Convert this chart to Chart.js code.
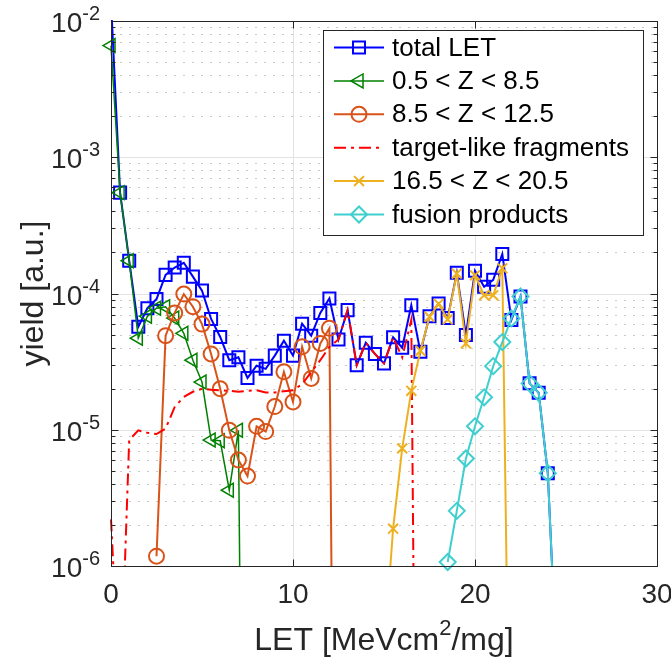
<!DOCTYPE html>
<html lang="en">
<head>
<meta charset="UTF-8" />
<title>LET yield</title>
<script src="https://cdn.jsdelivr.net/npm/chart.js"></script>
<style>
  html, body { margin: 0; padding: 0; background: #fff; }
  #chart { display: block; }
</style>
</head>
<body>
<canvas id="chart" width="671" height="666"></canvas>
<script>
  // LET bins [MeVcm2/mg] and yields [a.u.]
  const totalX = [0, 0.5, 1, 1.5, 2, 2.5, 3, 3.5, 4, 4.5, 5, 5.5, 6, 6.5, 7, 7.5, 8, 8.5, 9, 9.5,
                  10, 10.5, 11, 11.5, 12, 12.5, 13, 13.5, 14, 14.5, 15, 15.5, 16, 16.5, 17, 17.5, 18, 18.5, 19, 19.5,
                  20, 20.5, 21, 21.5, 22, 22.5, 23, 23.5, 24, 24.5];
  const totalY = [1.4e-2, 5.5e-4, 1.74e-4, 5.7e-5, 7.8e-5, 9.1e-5, 1.37e-4, 1.55e-4, 1.68e-4, 1.33e-4,
                  1.05e-4, 6.5e-5, 4.8e-5, 3.24e-5, 3.4e-5, 2.4e-5, 2.95e-5, 2.8e-5, 3.5e-5, 4.5e-5,
                  3.5e-5, 6.0e-5, 4.9e-5, 7.2e-5, 9.2e-5, 4.6e-5, 7.55e-5, 2.98e-5, 4.35e-5, 3.6e-5,
                  3.07e-5, 4.77e-5, 4.0e-5, 8.2e-5, 3.73e-5, 6.8e-5, 8.45e-5, 6.6e-5, 1.42e-4, 4.95e-5,
                  1.47e-4, 1.12e-4, 1.26e-4, 1.95e-4, 6.4e-5, 9.5e-5, 2.19e-5, 1.87e-5, 4.8e-6, 1.7e-7];

  const lightX = [0, 0.5, 1, 1.5, 2, 2.5, 3, 3.5, 4, 4.5, 5, 5.5, 6, 6.5, 7, 7.5];
  const lightY = [6.6e-3, 5.5e-4, 1.74e-4, 4.7e-5, 6.8e-5, 7.8e-5, 8.0e-5, 6.6e-5, 5.1e-5, 3.24e-5,
                  2.24e-5, 8.4e-6, 8.3e-6, 3.6e-6, 9.9e-6, 1e-12];

  const midX = [2.5, 3, 3.5, 4, 4.5, 5, 5.5, 6, 6.5, 7, 7.5, 8, 8.5, 9, 9.5, 10, 10.5, 11, 11.5, 12, 12.5];
  const midY = [1.18e-6, 4.9e-5, 7.2e-5, 9.9e-5, 8.0e-5, 5.96e-5, 3.6e-5, 2.0e-5, 9.9e-6, 6.0e-6,
                4.57e-6, 1.06e-5, 9.7e-6, 1.48e-5, 2.66e-5, 1.6e-5, 4.06e-5, 2.38e-5, 4.3e-5, 5.55e-5, 1e-12];

  const targetX = [0, 0.5, 1, 1.5, 2, 2.5, 3, 3.5, 4, 4.5, 5, 5.5, 6, 6.5, 7, 7.5, 8, 8.5, 9, 9.5,
                   10, 10.5, 11, 11.5, 12, 12.5, 13, 13.5, 14, 14.5, 15, 15.5, 16, 16.5, 17];
  const targetY = [2.2e-6, 1e-7, 8.4e-6, 9.9e-6, 9.5e-6, 9.3e-6, 1.02e-5, 1.47e-5, 1.74e-5, 1.9e-5,
                   2.0e-5, 1.97e-5, 1.95e-5, 1.93e-5, 1.9e-5, 1.93e-5, 1.95e-5, 1.88e-5, 1.88e-5, 1.92e-5,
                   1.95e-5, 2.16e-5, 2.65e-5, 3.24e-5, 4.06e-5, 4.6e-5, 7.55e-5, 2.98e-5, 4.35e-5, 3.6e-5,
                   3.07e-5, 4.77e-5, 3.4e-5, 6.4e-5, 1e-12];

  const heavyX = [15, 15.5, 16, 16.5, 17, 17.5, 18, 18.5, 19, 19.5, 20, 20.5, 21, 21.5, 22];
  const heavyY = [2.3e-7, 1.88e-6, 7.3e-6, 1.93e-5, 3.8e-5, 6.75e-5, 8.4e-5, 6.45e-5, 1.4e-4, 4.3e-5,
                  1.36e-4, 9.7e-5, 9.7e-5, 1.53e-4, 3e-9];

  const fusionX = [18.5, 19, 19.5, 20, 20.5, 21, 21.5, 22, 22.5, 23, 23.5, 24, 24.5];
  const fusionY = [1.07e-6, 2.54e-6, 6.15e-6, 1.06e-5, 1.73e-5, 2.93e-5, 4.4e-5, 6.56e-5, 9.5e-5,
                   2.19e-5, 1.87e-5, 4.8e-6, 1.7e-7];

  const seriesNames = ['total LET', '0.5 < Z < 8.5', '8.5 < Z < 12.5', 'target-like fragments',
                       '16.5 < Z < 20.5', 'fusion products'];
  const xTicks = [0, 10, 20, 30];
  const yExponents = [-6, -5, -4, -3, -2];

  // look of each series (same order as the names)
  const looks = [
    { color: '#0000ff', width: 2,   dash: [],            marker: 'rect',     rot: 0,   r: 8.5 },
    { color: '#008000', width: 1.5, dash: [],            marker: 'triangle', rot: -90, r: 8 },
    { color: '#d95319', width: 2,   dash: [],            marker: 'circle',   rot: 0,   r: 7.5 },
    { color: '#ff0000', width: 2,   dash: [12, 5, 3, 5], marker: null,       rot: 0,   r: 0 },
    { color: '#edb120', width: 2,   dash: [],            marker: 'crossRot', rot: 0,   r: 7 },
    { color: '#3fcfcf', width: 2,   dash: [],            marker: 'rectRot',  rot: 0,   r: 8 }
  ];
  const xs = [totalX, lightX, midX, targetX, heavyX, fusionX];
  const ys = [totalY, lightY, midY, targetY, heavyY, fusionY];

  const FONT = '"Liberation Sans", Arial, sans-serif';
  const INK = '#262626';

  // Chart.js paints lower "order" on top, so later series get a lower order
  const datasets = [];
  xs.forEach((xv, i) => {
    const pts = xv.map((x, j) => ({ x: x, y: ys[i][j] }));
    const lk = looks[i];
    datasets.push({
      data: pts, borderColor: lk.color, borderWidth: lk.width, borderDash: lk.dash,
      pointRadius: 0, fill: false, tension: 0, clip: 1, order: -datasets.length
    });
    if (lk.marker) {
      datasets.push({
        data: pts, showLine: false, clip: false, order: -datasets.length,
        pointStyle: lk.marker, rotation: lk.rot,
        pointRadius: c => (c.raw && c.raw.y >= 1e-6 ? lk.r : 0),
        pointBorderColor: lk.color, pointBackgroundColor: 'rgba(0,0,0,0)',
        pointBorderWidth: lk.width
      });
    }
  });

  function seg(ctx, x1, y1, x2, y2) {
    ctx.beginPath(); ctx.moveTo(x1, y1); ctx.lineTo(x2, y2); ctx.stroke();
  }

  const axesPlugin = {
    id: 'matlabAxes',
    beforeDatasetsDraw(chart) {
      const { ctx, chartArea: a, scales: { x, y } } = chart;
      ctx.save();
      ctx.lineWidth = 1;
      // minor grid (dotted)
      ctx.strokeStyle = '#c8c8c8';
      ctx.setLineDash([2, 7]);
      for (let e = -6; e < -2; e++) {
        for (let m = 2; m < 10; m++) {
          const py = Math.round(y.getPixelForValue(m * Math.pow(10, e))) + 0.5;
          seg(ctx, a.left, py, a.right, py);
        }
      }
      ctx.setLineDash([]);
      // major grid
      ctx.strokeStyle = '#e3e3e3';
      yExponents.forEach(e => {
        const py = Math.round(y.getPixelForValue(Math.pow(10, e))) + 0.5;
        seg(ctx, a.left, py, a.right, py);
      });
      xTicks.forEach(t => {
        const px = Math.round(x.getPixelForValue(t)) + 0.5;
        seg(ctx, px, a.top, px, a.bottom);
      });
      ctx.restore();
    },
    afterDraw(chart) {
      const { ctx, chartArea: a, scales: { x, y } } = chart;
      ctx.save();
      ctx.strokeStyle = INK;
      ctx.lineWidth = 1;
      const L = Math.round(a.left) + 0.5, R = Math.round(a.right) + 0.5;
      const T = Math.round(a.top) + 0.5, B = Math.round(a.bottom) + 0.5;
      ctx.strokeRect(L, T, R - L, B - T);

      // ticks (inward)
      for (let e = -6; e <= -2; e++) {
        const py = Math.round(y.getPixelForValue(Math.pow(10, e))) + 0.5;
        seg(ctx, L, py, L + 7, py); seg(ctx, R, py, R - 7, py);
        if (e < -2) {
          for (let m = 2; m < 10; m++) {
            const q = Math.round(y.getPixelForValue(m * Math.pow(10, e))) + 0.5;
            seg(ctx, L, q, L + 4, q); seg(ctx, R, q, R - 4, q);
          }
        }
      }
      xTicks.forEach(t => {
        const px = Math.round(x.getPixelForValue(t)) + 0.5;
        seg(ctx, px, B, px, B - 7); seg(ctx, px, T, px, T + 7);
      });

      ctx.fillStyle = INK;
      // y tick labels 10^e
      yExponents.forEach(e => {
        const py = y.getPixelForValue(Math.pow(10, e));
        ctx.textBaseline = 'alphabetic';
        ctx.font = '20px ' + FONT;
        ctx.textAlign = 'right';
        const ex = String(e);
        ctx.fillText(ex, 100, py - 1);
        const w = ctx.measureText(ex).width;
        ctx.font = '28px ' + FONT;
        ctx.fillText('10', 100 - w, py + 11);
      });
      // x tick labels
      ctx.font = '28px ' + FONT;
      ctx.textAlign = 'center';
      xTicks.forEach(t => ctx.fillText(String(t), x.getPixelForValue(t), 603));

      // x title with superscript
      const big = '32px ' + FONT, small = '22px ' + FONT;
      ctx.font = big; const w1 = ctx.measureText('LET [MeVcm').width;
      const w3 = ctx.measureText('/mg]').width;
      ctx.font = small; const w2 = ctx.measureText('2').width;
      let sx = (a.left + a.right) / 2 - (w1 + w2 + w3) / 2;
      ctx.textAlign = 'left';
      ctx.font = big; ctx.fillText('LET [MeVcm', sx, 650);
      ctx.font = small; ctx.fillText('2', sx + w1, 635);
      ctx.font = big; ctx.fillText('/mg]', sx + w1 + w2, 650);

      // y title
      ctx.save();
      ctx.translate(43, (a.top + a.bottom) / 2);
      ctx.rotate(-Math.PI / 2);
      ctx.textAlign = 'center';
      ctx.font = big;
      ctx.fillText('yield [a.u.]', 0, 0);
      ctx.restore();

      // legend
      const bx = 323.5, by = 30.5, bw = 320, bh = 205, row = 33.4;
      ctx.fillStyle = '#ffffff';
      ctx.fillRect(bx, by, bw, bh);
      ctx.strokeStyle = INK;
      ctx.lineWidth = 1;
      ctx.strokeRect(bx, by, bw, bh);
      ctx.font = '26px ' + FONT;
      ctx.textAlign = 'left';
      ctx.textBaseline = 'middle';
      seriesNames.forEach((name, i) => {
        const lk = looks[i];
        const cy = by + 17 + i * row;
        ctx.strokeStyle = lk.color;
        ctx.lineWidth = lk.width;
        ctx.setLineDash(lk.dash);
        seg(ctx, 334, cy, 384, cy);
        ctx.setLineDash([]);
        if (lk.marker) {
          ctx.fillStyle = 'rgba(0,0,0,0)';
          Chart.helpers.drawPoint(ctx, { pointStyle: lk.marker, rotation: lk.rot, radius: lk.r, borderWidth: lk.width }, 359, cy);
        }
        ctx.fillStyle = '#000000';
        ctx.fillText(name, 392, cy + 1);
      });
      ctx.restore();
    }
  };

  new Chart(document.getElementById('chart'), {
    type: 'line',
    data: { datasets: datasets },
    options: {
      responsive: false,
      animation: false,
      devicePixelRatio: 1,
      events: [],
      layout: { padding: { left: 0, right: 14, top: 21, bottom: 0 } },
      plugins: { legend: { display: false }, tooltip: { enabled: false } },
      scales: {
        x: {
          type: 'linear', min: 0, max: 30,
          ticks: { display: false }, grid: { display: false }, border: { display: false },
          afterFit: s => { s.height = 100; }
        },
        y: {
          type: 'logarithmic', min: 1e-6, max: 1e-2,
          ticks: { display: false }, grid: { display: false }, border: { display: false },
          afterFit: s => { s.width = 111; }
        }
      }
    },
    plugins: [axesPlugin]
  });
</script>
</body>
</html>
